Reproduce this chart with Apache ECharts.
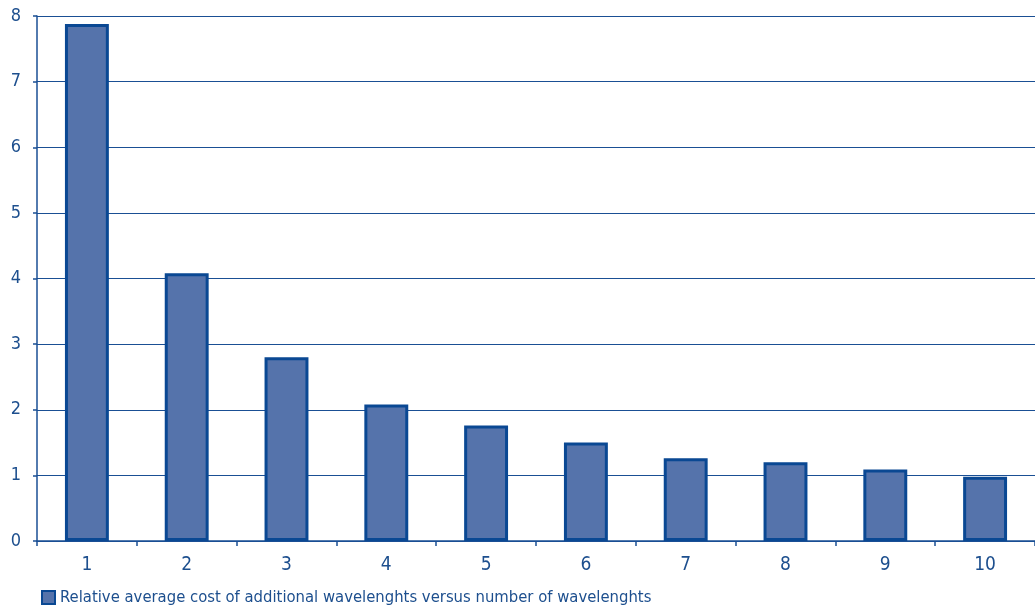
<!DOCTYPE html>
<html>
<head>
<meta charset="utf-8">
<script src="https://cdn.jsdelivr.net/npm/echarts@6/dist/echarts.min.js"></script>
<style>
  html, body { margin: 0; padding: 0; background: #ffffff; }
  #chart { width: 1035px; height: 613px; }
</style>
</head>
<body>
<div id="chart"></div>
<script>
// Number of wavelengths (category axis)
const wavelengths = ['1', '2', '3', '4', '5', '6', '7', '8', '9', '10'];
// Relative average cost of each additional wavelength
const relativeCost = [7.88, 4.08, 2.8, 2.08, 1.76, 1.5, 1.26, 1.2, 1.09, 0.98];
const seriesName = 'Relative average cost of additional wavelenghts versus number of wavelenghts';

const textColor = '#1d4f8e';
const lineColor = '#1a4f94';
const font = "'Liberation Sans Narrow', 'DejaVu Sans Condensed', 'Noto Sans', sans-serif";

const chart = echarts.init(document.getElementById('chart'), null, { renderer: 'canvas' });
chart.setOption({
  animation: false,
  backgroundColor: '#ffffff',
  grid: { left: 37, right: 0, top: 16, bottom: 72, containLabel: false },
  legend: {
    left: 36, bottom: 2,
    itemWidth: 13, itemHeight: 13, itemGap: 10,
    icon: 'rect',
    textStyle: { color: textColor, fontFamily: font, fontSize: 16.5 },
    data: [seriesName]
  },
  xAxis: {
    type: 'category',
    data: wavelengths,
    boundaryGap: true,
    axisLine: { lineStyle: { color: lineColor, width: 1.5 } },
    axisTick: { show: true, inside: false, length: 5, lineStyle: { color: lineColor, width: 1.5 } },
    axisLabel: { color: textColor, fontFamily: font, fontSize: 19, margin: 15 },
    splitLine: { show: false }
  },
  yAxis: {
    type: 'value',
    min: 0, max: 8, interval: 1,
    axisLine: { show: true, lineStyle: { color: lineColor, width: 1.5 } },
    axisTick: { show: true, length: 4, lineStyle: { color: lineColor, width: 1.5 } },
    axisLabel: { color: textColor, fontFamily: font, fontSize: 18, margin: 16 },
    splitLine: { show: true, lineStyle: { color: lineColor, width: 1.2 } }
  },
  series: [{
    name: seriesName,
    type: 'bar',
    data: relativeCost,
    barWidth: '44%',
    itemStyle: { color: '#5573ab', borderColor: '#0a4893', borderWidth: 3 }
  }]
});
</script>
</body>
</html>
